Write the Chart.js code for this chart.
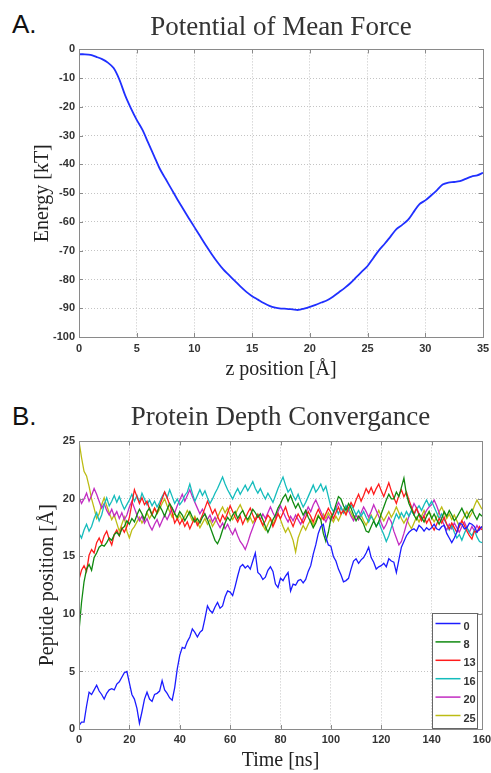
<!DOCTYPE html>
<html>
<head>
    <meta charset="utf-8">
    <title>PMF and Protein Depth</title>
    <style>
        body { margin: 0; background: #fff; }
        #wrap { position: relative; width: 491px; height: 773px; }
        canvas { position: absolute; left: 0; }
        .tag { position: absolute; left: 12px; font: 26px/26px "Liberation Sans", Arial, sans-serif; color: #111; }
    </style>
</head>
<body>
<div id="wrap">
    <div class="tag" style="top:11px">A.</div>
    <canvas id="pmfChart" width="491" height="385" style="top:0"></canvas>
    <div class="tag" style="top:403px">B.</div>
    <canvas id="depthChart" width="491" height="388" style="top:385px"></canvas>
</div>
<script src="https://cdn.jsdelivr.net/npm/chart.js"></script>
<script>
    // panel A: potential of mean force, z from 0 to 35 in steps of 0.5
    const zPos = Array.from({length: 71}, (_, i) => i * 0.5);
    const energy = [
        -1.7, -1.7, -1.9, -2.6, -3.4, -4.6, -6.5, -10.5, -16.0, -20.5,
        -24.5, -28.0, -32.5, -37.0, -41.5, -45.0, -48.5, -52.0, -55.3, -58.6,
        -61.8, -65.0, -68.2, -71.2, -74.0, -76.5, -78.5, -80.5, -82.5, -84.3,
        -85.8, -87.0, -88.2, -89.2, -89.8, -90.1, -90.2, -90.4, -90.6, -90.1,
        -89.5, -88.8, -88.0, -87.2, -86.0, -84.5, -83.0, -81.3, -79.3, -77.3,
        -75.3, -72.5, -69.8, -67.5, -65.0, -62.5, -61.0, -59.3, -56.5, -53.8,
        -52.5, -50.8, -49.0, -47.0, -46.3, -46.1, -45.8, -45.0, -44.2, -43.8,
        -42.9
    ];

    // panel B: peptide depth, one sample per ns
    const timeNs = Array.from({length: 161}, (_, i) => i);
    const startDepths = ['0', '8', '13', '16', '20', '25'];
    const depth0 = [
        0.3, 0.6, 0.6, 2.0, 3.2, 3.0, 3.4, 3.8, 3.3, 3.0,
        2.6, 3.1, 3.4, 3.5, 3.4, 3.9, 4.1, 4.5, 4.9, 5.0,
        4.0, 3.0, 2.6, 1.8, 0.5, 1.5, 2.6, 3.2, 2.6, 2.4,
        3.0, 3.1, 3.3, 4.2, 3.4, 3.1, 2.7, 2.5, 3.6, 5.2,
        6.4, 7.1, 7.0, 7.6, 8.0, 8.7, 8.4, 8.0, 8.4, 8.6,
        9.6, 10.7, 10.3, 10.1, 10.6, 11.0, 10.5, 10.7, 11.5, 12.0,
        11.9, 11.6, 12.4, 13.3, 14.1, 14.3, 14.0, 14.2, 13.9, 14.6,
        15.3, 13.6, 13.4, 13.0, 13.2, 13.8, 14.1, 13.7, 12.6, 12.3,
        13.1, 12.9, 13.3, 13.6, 12.0, 12.6, 12.5, 12.9, 13.0, 12.7,
        13.0, 13.7, 14.2, 15.2, 16.0, 17.0, 17.6, 17.8, 16.7, 16.0,
        15.9, 15.0, 14.6, 13.9, 13.4, 12.8, 12.9, 13.1, 13.9, 14.6,
        14.8, 14.4, 14.7, 14.9, 15.3, 15.8, 14.9, 14.5, 13.9, 14.1,
        14.2, 14.4, 14.1, 14.8, 14.6, 14.5, 13.6, 14.7, 15.8, 16.3,
        16.8, 17.1, 17.3, 17.4, 17.2, 17.7, 17.5, 17.2, 17.5, 17.3,
        17.5, 17.8, 17.4, 17.3, 17.6, 17.7, 17.0, 16.6, 16.2, 16.6,
        17.1, 17.9, 17.8, 17.4, 17.5, 17.9, 17.8, 17.6, 17.1, 17.4,
        17.6
    ];
    const depth8 = [
        8.5, 11.0, 12.8, 13.9, 14.3, 13.8, 14.9, 15.3, 15.8, 16.0,
        15.9, 16.2, 16.6, 16.4, 16.9, 17.1, 16.8, 17.4, 17.6, 18.1,
        17.8, 18.3, 18.0, 18.6, 19.1, 18.7, 18.2, 18.9, 19.2, 18.6,
        18.3, 18.8, 19.4, 19.0, 18.5, 19.1, 19.6, 19.2, 18.7, 18.4,
        18.9, 18.6, 18.1, 18.5, 18.9, 18.4, 18.0, 18.3, 17.9, 18.4,
        18.7, 18.2, 17.6, 17.0, 16.4, 16.1, 16.6, 17.3, 17.9, 18.4,
        18.1, 18.6, 18.9, 18.3, 18.7, 19.0, 18.5, 18.2, 18.6, 19.1,
        18.8, 18.4, 18.7, 18.2, 17.6, 17.1, 17.6, 18.2, 18.6, 19.2,
        19.6, 20.1, 20.4, 19.8, 20.3, 19.7, 19.2, 19.6, 19.1, 18.6,
        19.0, 18.4, 18.0, 17.5, 17.9, 18.5, 18.2, 17.0, 16.3, 17.1,
        18.3, 18.8, 19.5, 20.2, 20.0, 19.4, 19.0, 19.6, 19.2, 18.6,
        18.1, 18.5, 18.2, 17.8, 17.2, 17.1, 17.6, 18.1, 17.6, 18.0,
        18.7, 19.3, 19.9, 20.4, 20.0, 20.0, 20.6, 20.2, 21.0, 21.8,
        20.4, 19.6, 19.1, 18.6, 18.2, 18.7, 18.4, 18.0, 18.5, 18.9,
        18.3, 18.7, 18.2, 17.8, 18.3, 18.9, 18.5, 19.0, 18.6, 18.1,
        18.4, 18.8, 19.2, 18.7, 18.3, 18.8, 19.1, 18.6, 18.2, 18.7,
        18.5
    ];
    const depth13 = [
        13.0, 13.8, 14.2, 13.7, 15.1, 15.6, 15.3, 16.2, 16.6, 16.1,
        16.8, 17.2, 16.5, 16.0, 16.9, 17.3, 16.8, 17.5, 17.1, 17.6,
        18.4, 19.6, 20.8, 20.2, 19.6, 20.1, 19.5, 19.8, 19.1, 18.6,
        19.2, 18.8, 19.4, 20.0, 20.6, 20.1, 19.5, 18.8, 17.9, 18.3,
        17.8, 18.2, 17.6, 18.0, 17.4, 17.9, 18.3, 17.7, 18.1, 18.6,
        19.2, 19.8, 19.3, 18.7, 19.1, 18.5, 18.0, 18.6, 18.2, 18.8,
        19.4, 18.9, 18.4, 18.0, 18.5, 17.8, 18.3, 18.8, 19.2, 18.6,
        18.1, 18.6, 18.2, 17.7, 18.1, 18.6, 18.3, 17.6, 18.1, 18.7,
        18.3, 18.8, 19.3, 18.6, 18.1, 17.6, 18.2, 18.7, 18.3, 17.9,
        18.4, 18.9, 18.5, 18.0, 18.6, 19.1, 18.6, 18.2, 18.7, 19.2,
        18.8, 18.3, 18.8, 19.3, 18.7, 19.0, 18.6, 19.2, 19.7, 19.3,
        19.9, 20.4, 19.8, 20.3, 20.9, 20.5, 21.0, 20.4, 20.9, 21.3,
        20.7, 20.2, 20.8, 21.4, 20.7, 20.1, 19.6, 20.3, 20.8, 20.2,
        20.6, 19.9, 19.3, 18.7, 19.2, 18.6, 18.1, 18.5, 17.9, 18.3,
        17.7, 17.3, 17.8, 18.3, 17.9, 18.4, 17.8, 17.4, 17.9, 17.5,
        17.1, 17.6, 18.1, 17.7, 17.2, 16.8, 16.5, 17.2, 17.1, 17.6,
        17.3
    ];
    const depth16 = [
        17.0, 16.6, 17.3, 17.8, 17.2, 17.6, 18.3, 18.8, 18.1, 18.6,
        19.5, 20.1, 19.4, 19.8, 20.3, 19.7, 20.2, 19.6, 19.1, 19.5,
        19.9, 20.4, 19.8, 20.3, 19.7, 20.5, 20.0, 19.5, 19.9, 19.4,
        19.8, 19.3, 19.7, 20.2, 20.6, 20.1, 20.8, 20.2, 19.6, 20.0,
        19.5, 19.8, 20.3, 20.6, 21.3, 20.5, 19.8, 20.3, 20.8, 20.3,
        20.7, 20.1, 19.6, 20.0, 20.5, 20.9, 21.4, 21.9, 21.3, 20.8,
        20.4, 20.0, 20.5, 20.9, 20.4, 20.8, 21.2, 20.7, 21.1, 21.5,
        20.9, 20.5, 20.9, 20.4, 20.0, 20.5, 20.1, 19.7, 20.3, 20.9,
        21.4, 21.9, 21.2, 20.6, 20.9, 20.3, 19.9, 20.4, 19.8, 19.3,
        19.7, 20.2, 20.7, 21.2, 20.6, 20.9, 21.3, 20.7, 21.1, 20.2,
        19.3, 18.9, 19.2, 18.7, 19.3, 18.8, 19.4, 19.0, 19.5, 19.1,
        18.6, 19.0, 18.5, 18.9, 18.4, 18.0, 18.5, 18.1, 17.6, 18.0,
        17.4, 16.9, 16.3, 16.8, 17.5, 18.1, 18.7, 18.3, 18.8, 18.4,
        18.9, 18.5, 19.0, 18.6, 19.1, 19.4, 19.0, 19.5, 19.9, 19.4,
        19.8, 19.3, 18.8, 18.3, 18.7, 18.2, 17.8, 17.3, 17.7, 17.1,
        16.6, 16.9, 16.4, 17.0, 17.5, 17.1, 16.8, 17.3, 16.7, 16.3,
        16.2
    ];
    const depth20 = [
        20.2, 19.6, 20.0, 20.5, 19.8, 20.3, 20.9, 20.4, 19.8, 19.2,
        19.6, 19.0, 18.6, 19.1, 18.5, 18.9, 18.3, 18.8, 18.2, 18.6,
        19.3, 19.8, 19.2, 18.6, 18.1, 18.5, 17.9, 18.3, 17.7, 17.3,
        17.8, 18.2, 17.6, 18.1, 18.6, 18.2, 18.7, 19.2, 18.8, 19.4,
        19.9, 20.4, 19.8, 20.3, 20.8, 20.2, 19.7, 19.2, 18.7, 19.1,
        18.6, 18.2, 18.6, 18.0, 18.4, 17.9, 17.5, 17.9, 17.4, 17.8,
        17.3, 16.9, 17.4, 16.8, 16.3, 16.0, 15.6, 16.2, 16.9, 17.5,
        18.1, 18.6, 18.2, 18.7, 18.3, 18.8, 19.3, 18.8, 18.4, 18.9,
        19.4, 18.9, 18.4, 18.0, 18.5, 18.1, 18.6, 18.2, 17.8, 18.3,
        18.8, 19.3, 18.9, 19.5, 19.9, 19.4, 18.9, 18.4, 18.0, 18.5,
        18.1, 18.7, 19.2, 19.7, 19.3, 18.8, 19.4, 19.0, 18.5, 18.1,
        18.6, 18.2, 18.8, 19.3, 18.9, 18.4, 18.9, 19.5, 19.0, 18.5,
        17.9, 17.4, 17.8, 18.4, 18.0, 17.2, 16.6, 16.0, 16.3, 17.0,
        17.8, 18.5, 19.0, 19.6, 19.2, 18.7, 18.2, 18.6, 19.0, 19.3,
        19.5, 19.9, 19.4, 18.8, 18.2, 17.7, 17.3, 17.8, 17.4, 17.9,
        17.5, 17.1, 17.6, 18.0, 17.5, 17.1, 17.6, 17.2, 17.7, 17.3,
        17.6
    ];
    const depth25 = [
        25.0, 23.6, 22.4, 22.0, 21.1, 20.0, 19.2, 18.3, 18.7, 19.5,
        20.1, 19.4, 18.8, 18.2, 18.6, 17.9, 17.2, 17.8, 18.4, 17.2,
        16.6, 17.3, 17.6, 18.0, 18.4, 17.9, 18.3, 18.8, 18.3, 18.7,
        19.2, 18.7, 19.1, 19.6, 20.0, 19.4, 18.9, 18.4, 18.8, 18.2,
        18.6, 18.1, 18.5, 19.0, 18.6, 18.1, 18.5, 18.0, 17.5, 17.9,
        18.3, 17.8, 18.2, 17.6, 18.0, 18.4, 18.9, 19.3, 18.8, 19.2,
        18.6, 18.2, 18.6, 19.1, 19.5, 19.0, 18.5, 18.0, 18.4, 17.9,
        18.3, 18.7, 18.2, 17.7, 17.3, 17.8, 18.3, 17.8, 18.3, 18.8,
        18.2, 17.6, 17.1, 17.5, 17.0, 16.4, 15.4, 16.6, 17.2, 17.7,
        17.3, 17.8, 18.2, 17.7, 18.1, 18.6, 18.2, 18.7, 18.3, 18.8,
        18.4, 18.0, 18.5, 18.1, 18.6, 19.1, 18.7, 19.2, 18.8, 18.3,
        18.7, 18.2, 18.6, 18.1, 17.7, 18.2, 18.6, 18.1, 18.5, 19.0,
        18.5, 18.1, 18.5, 18.9, 18.4, 18.8, 19.3, 18.8, 18.3, 17.9,
        18.3, 17.8, 17.4, 17.9, 18.4, 18.0, 18.5, 19.0, 18.5, 18.9,
        18.4, 18.0, 18.4, 18.9, 19.3, 18.8, 18.3, 18.7, 18.2, 18.6,
        18.1, 17.6, 18.1, 18.5, 18.9, 18.4, 18.8, 19.4, 19.9, 19.5,
        19.1
    ];
    const depthSeries = [depth0, depth8, depth13, depth16, depth20, depth25];
    const seriesColors = ['#1c1cff', '#108a10', '#ff1c1c', '#14bcbc', '#c22cc2', '#bcbc14'];

    const tickFont = {family: 'Liberation Sans', size: 11, weight: 'bold'};
    const serif = 'Liberation Serif';

    // matlab style box round the plot, ticks pointing inwards
    const boxFrame = {
        id: 'boxFrame',
        afterDatasetsDraw(chart) {
            const {ctx, chartArea: a, scales: {x, y}} = chart;
            ctx.save();
            ctx.strokeStyle = '#8a8a8a';
            ctx.lineWidth = 1;
            ctx.beginPath();
            x.ticks.forEach(t => {
                const px = Math.round(x.getPixelForValue(t.value)) + 0.5;
                ctx.moveTo(px, a.bottom); ctx.lineTo(px, a.bottom - 4);
                ctx.moveTo(px, a.top); ctx.lineTo(px, a.top + 4);
            });
            y.ticks.forEach(t => {
                const py = Math.round(y.getPixelForValue(t.value)) + 0.5;
                ctx.moveTo(a.left, py); ctx.lineTo(a.left + 4, py);
                ctx.moveTo(a.right, py); ctx.lineTo(a.right - 4, py);
            });
            ctx.stroke();
            ctx.strokeRect(Math.round(a.left) + 0.5, Math.round(a.top) + 0.5,
                Math.round(a.right - a.left), Math.round(a.bottom - a.top));
            ctx.restore();
        }
    };

    // legend box in the lower right corner of panel B
    const cornerLegend = {
        id: 'cornerLegend',
        afterDraw(chart) {
            const {ctx, chartArea: a} = chart;
            const w = 45, h = 115;
            const left = Math.round(a.right) - 5 - w + 0.5;
            const top = Math.round(a.bottom) - 1 - h + 0.5;
            ctx.save();
            ctx.fillStyle = '#fff';
            ctx.fillRect(left, top, w, h);
            ctx.strokeStyle = '#666';
            ctx.lineWidth = 1;
            ctx.strokeRect(left, top, w, h);
            ctx.font = 'bold 11px "Liberation Sans"';
            ctx.textBaseline = 'middle';
            ctx.fillStyle = '#333';
            chart.data.datasets.forEach((ds, i) => {
                const yy = top + 10 + i * 18.4;
                ctx.strokeStyle = ds.borderColor;
                ctx.lineWidth = 1.5;
                ctx.beginPath();
                ctx.moveTo(left + 3, yy); ctx.lineTo(left + 28, yy);
                ctx.stroke();
                ctx.fillText(ds.label, left + 31, yy + 3);
            });
            ctx.restore();
        }
    };

    const makeOptions = (o) => ({
        responsive: false,
        animation: false,
        layout: {padding: {left: 0, right: o.padRight, top: 0, bottom: 0}},
        plugins: {
            legend: {display: false},
            tooltip: {enabled: false},
            title: {
                display: true,
                fullSize: false,
                text: o.title,
                color: '#333',
                font: {family: serif, size: 27, weight: 'normal', lineHeight: 1.2},
                padding: o.titlePad
            }
        },
        scales: {
            x: {
                type: 'linear',
                min: o.xMin, max: o.xMax,
                ticks: {stepSize: o.xStep, font: tickFont, color: '#333', padding: o.xTickPad, maxRotation: 0},
                grid: {color: '#c4c4c4', drawTicks: false},
                border: {display: false, dash: [1, 2]},
                title: {display: true, text: o.xTitle, color: '#222',
                    font: {family: serif, size: 20, lineHeight: 1.2}, padding: {top: 0, bottom: o.xTitlePad}},
                afterFit: s => { s.height = o.xHeight; s.paddingLeft = 0; s.paddingRight = 0; }
            },
            y: {
                min: o.yMin, max: o.yMax,
                ticks: {stepSize: o.yStep, font: tickFont, color: '#333', padding: 4},
                grid: {color: '#c4c4c4', drawTicks: false},
                border: {display: false, dash: [1, 2]},
                title: {display: true, text: o.yTitle, color: '#222',
                    font: {family: serif, size: 20, lineHeight: 1.2}, padding: {top: o.yTitlePad, bottom: 0}},
                afterFit: s => { s.width = 79; }
            }
        }
    });

    new Chart(document.getElementById('pmfChart'), {
        type: 'line',
        data: {
            labels: zPos,
            datasets: [{
                label: 'PMF',
                data: energy,
                borderColor: '#2030ff',
                borderWidth: 1.8,
                pointRadius: 0,
                tension: 0.3
            }]
        },
        options: makeOptions({
            title: 'Potential of Mean Force', titlePad: {top: 12, bottom: 5},
            padRight: 8,
            xMin: 0, xMax: 35, xStep: 5, xTitle: 'z position [Å]', xTickPad: 5, xTitlePad: 3, xHeight: 48,
            yMin: -100, yMax: 0, yStep: 10, yTitle: 'Energy [kT]', yTitlePad: 31
        }),
        plugins: [boxFrame]
    });

    new Chart(document.getElementById('depthChart'), {
        type: 'line',
        data: {
            labels: timeNs,
            datasets: depthSeries.map((vals, i) => ({
                label: startDepths[i],
                data: vals,
                borderColor: seriesColors[i],
                borderWidth: 1.3,
                pointRadius: 0
            }))
        },
        options: makeOptions({
            title: 'Protein Depth Convergance', titlePad: {top: 17, bottom: 7},
            padRight: 9,
            xMin: 0, xMax: 160, xStep: 20, xTitle: 'Time [ns]', xTickPad: 4, xTitlePad: 0, xHeight: 44,
            yMin: 0, yMax: 25, yStep: 5, yTitle: 'Peptide position [Å]', yTitlePad: 36
        }),
        plugins: [boxFrame, cornerLegend]
    });
</script>
</body>
</html>
